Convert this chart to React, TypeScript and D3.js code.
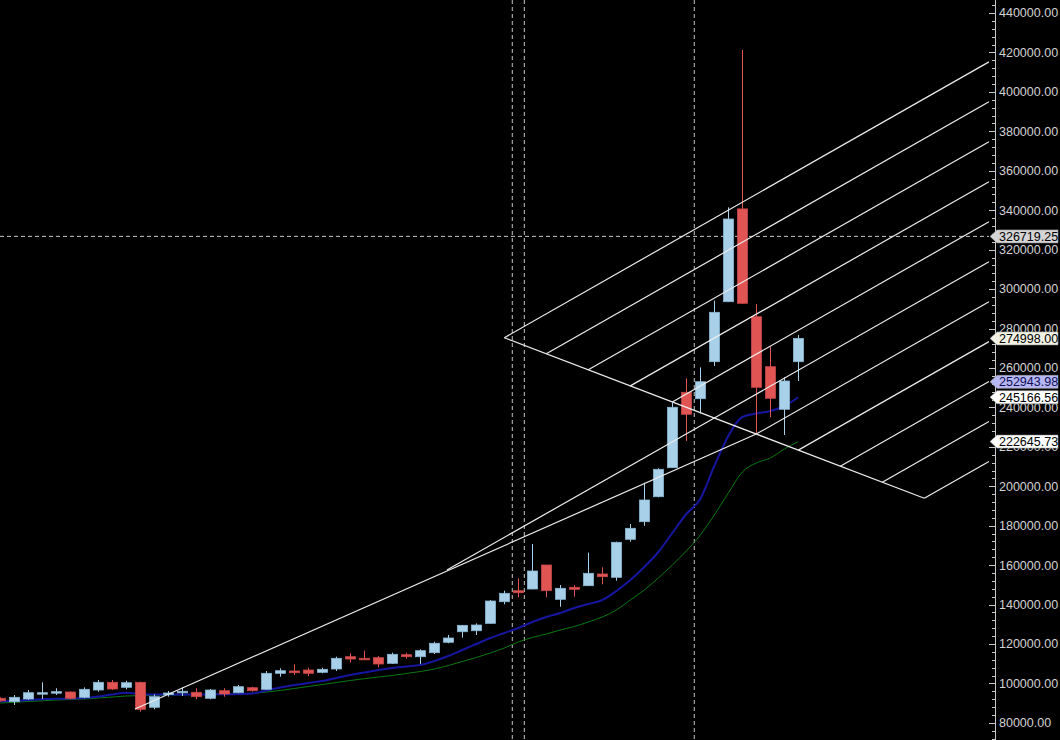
import React from 'react';
import * as d3 from 'd3';

const W = 1060;
const H = 740;
const PLOT_RIGHT = 989;
const AXIS_X = 995;

// OHLC per bar (bar index 0..57)
const opens = [92484, 90758, 92125, 94665, 95172, 95679, 92989, 96693, 100591, 98060, 100591, 87926, 94665, 95527, 95527, 92484, 96338, 95320, 97857, 97046, 105157, 106323, 106835, 105664, 107338, 113575, 112763, 113068, 110232, 114593, 113575, 115608, 120881, 126246, 126753, 130506, 141460, 147038, 147910, 160080, 142687, 148772, 149583, 155516, 153843, 173106, 182032, 194714, 209425, 247656, 244410, 263174, 293602, 340653, 286001, 260636, 239036, 263174];
const highs = [93000, 94157, 96693, 100589, 97555, 96034, 98060, 101764, 101764, 101409, 100895, 94512, 96186, 98060, 97555, 97198, 97555, 99226, 98364, 106323, 107686, 109719, 107997, 107997, 113575, 115304, 116622, 113930, 115608, 115608, 117332, 121186, 124584, 129655, 130506, 142332, 147038, 153332, 170730, 160080, 149938, 149938, 166322, 158915, 171895, 180865, 201815, 209116, 242379, 254756, 260333, 294107, 341461, 421237, 292434, 270780, 255268, 276714];
const lows = [90800, 89086, 91622, 92125, 94157, 91977, 92484, 95831, 96693, 97046, 85685, 86902, 93294, 93649, 91977, 91977, 93294, 95020, 95831, 96693, 103436, 104300, 103792, 105157, 106323, 110537, 111906, 108202, 109882, 112560, 109882, 114948, 120374, 123215, 124584, 130151, 140141, 143710, 147757, 143710, 138924, 144015, 149431, 150293, 152102, 171895, 179998, 194410, 209268, 222961, 237004, 260992, 293600, 292500, 226866, 234972, 226004, 253384];
const closes = [91216, 92989, 95320, 95320, 95831, 92484, 97046, 100591, 97198, 100389, 86902, 93294, 95172, 96034, 93294, 96693, 94665, 98364, 96338, 105157, 106475, 105461, 105157, 107185, 112763, 112408, 112256, 109882, 114796, 113575, 116622, 120374, 123062, 129484, 129644, 141815, 145720, 146024, 157038, 147048, 148265, 147757, 155871, 154147, 171591, 178685, 193042, 208609, 240054, 236500, 253031, 288224, 335537, 292791, 250190, 244616, 253382, 274998];

// moving averages
const maFast = [90861, 91216, 91622, 91977, 92230, 92383, 92636, 93397, 94411, 95273, 94665, 94411, 94411, 94411, 94411, 94512, 94563, 94665, 94924, 96445, 97967, 99228, 100243, 101257, 102778, 104300, 105567, 106835, 107849, 108610, 109370, 111399, 113934, 116977, 120020, 123062, 125598, 128133, 131176, 133711, 135740, 138275, 140304, 142332, 146896, 152474, 159066, 166673, 176308, 185943, 193549, 210283, 225496, 235131, 236906, 238174, 240709, 245166.56];
const maSlow = [90101, 90456, 90861, 91216, 91622, 91876, 92129, 92636, 93143, 93650, 93904, 94005, 94157, 94259, 94411, 94512, 94665, 94817, 95020, 95679, 96439, 97454, 98468, 99482, 100496, 101510, 102423, 103285, 104046, 105060, 106074, 107342, 109117, 111145, 113174, 115456, 117991, 121034, 123316, 125091, 127119, 128894, 131176, 133711, 137261, 142332, 147403, 153488, 160080, 167180, 175293, 185435, 196592, 207241, 211805, 214340, 218904, 222645.73];

// axis
const yTickValues = d3.range(80000, 440001, 20000);
const yMinorValues = d3.range(72000, 446001, 4000);

// drawing objects (bar index, price)
const channelApex = { i: 36, p: 275344 };
const channelBaseEnd = { i: 66, p: 193904 };
const channelCount = 11;
const channelSlopePerBar = 4040;
const channelRightIndex = 70.62;
const trendA = [{ i: 9.62, p: 87058 }, { i: 54, p: 226480 }];
const trendM = [{ i: 31.9, p: 157545 }, { i: 51, p: 234624 }];
const dashedVerticals = [36.57, 37.43, 49.57];
const crosshairPrice = 326719.25;

const priceTags = [
  { value: 326719.25, text: '326719.25', bg: '#d4d4d4', fg: '#000000' },
  { value: 274998.0, text: '274998.00', bg: '#f2f2e4', fg: '#000000' },
  { value: 252943.98, text: '252943.98', bg: '#b6b6f2', fg: '#10105a' },
  { value: 245166.56, text: '245166.56', bg: '#ffffff', fg: '#000000' },
  { value: 222645.73, text: '222645.73', bg: '#ffffff', fg: '#000000' },
];

const x = d3.scaleLinear().domain([0, 57]).range([0.3, 798.3]);
const y = d3.scaleLinear().domain([446592, 71338]).range([0, H]);

const BULL = '#a8d0e8';
const BULL_EDGE = '#8cb8d6';
const BEAR = '#e05454';

const FONT = '"Liberation Sans", Arial, sans-serif';

function Tag({ value, text, bg, fg }: { value: number; text: string; bg: string; fg: string }) {
  const cy = y(value);
  const h = 13;
  const pts = [
    [990, cy],
    [997, cy - h / 2],
    [1058, cy - h / 2],
    [1058, cy + h / 2],
    [997, cy + h / 2],
  ]
    .map((p) => p.join(','))
    .join(' ');
  return (
    <g>
      <polygon points={pts} fill={bg} stroke="#9a9a9a" strokeWidth={0.6} />
      <text x={999} y={cy} dy="0.35em" fontSize={12.5} fontFamily={FONT} fill={fg}>
        {text}
      </text>
    </g>
  );
}

export default function App() {
  const idx = d3.range(opens.length);
  const lineGen = d3
    .line<number>()
    .x((_, i) => x(i))
    .y((d) => y(d))
    .curve(d3.curveMonotoneX);

  const basePts = d3.range(channelCount).map((k) => ({
    i: channelApex.i + ((channelBaseEnd.i - channelApex.i) * k) / (channelCount - 1),
    p: channelApex.p + ((channelBaseEnd.p - channelApex.p) * k) / (channelCount - 1),
  }));

  return (
    <svg
      width={W}
      height={H}
      style={{ position: 'absolute', left: 0, top: 0, background: '#000' }}
    >
      <rect x={0} y={0} width={W} height={H} fill="#000" />

      {/* dashed verticals */}
      {dashedVerticals.map((v, k) => (
        <line
          key={'dv' + k}
          x1={x(v)}
          x2={x(v)}
          y1={0}
          y2={H}
          stroke="#c8c8c8"
          strokeWidth={1}
          strokeDasharray="4,3"
        />
      ))}
      {/* crosshair horizontal */}
      <line
        x1={0}
        x2={AXIS_X}
        y1={y(crosshairPrice)}
        y2={y(crosshairPrice)}
        stroke="#c8c8c8"
        strokeWidth={1}
        strokeDasharray="4,3"
      />

      {/* moving averages */}
      <path d={lineGen(maSlow) || ''} fill="none" stroke="#0b7a12" strokeWidth={1} />
      <path d={lineGen(maFast) || ''} fill="none" stroke="#1616a0" strokeWidth={2} />

      {/* candles */}
      {idx.map((i) => {
        const o = opens[i];
        const c = closes[i];
        const bull = c >= o;
        const col = bull ? BULL : BEAR;
        const top = y(Math.max(o, c));
        const bot = y(Math.min(o, c));
        const cx = Math.round(x(i)) + 0.5;
        return (
          <g key={'c' + i}>
            <line x1={cx} x2={cx} y1={y(highs[i])} y2={y(lows[i])} stroke={col} strokeWidth={1} />
            <rect
              x={cx - 5}
              y={top}
              width={10}
              height={Math.max(1.5, bot - top)}
              fill={col}
              stroke={bull ? BULL_EDGE : '#c84848'}
              strokeWidth={0.8}
            />
          </g>
        );
      })}

      {/* channel drawing */}
      <line
        x1={x(channelApex.i)}
        y1={y(channelApex.p)}
        x2={x(channelBaseEnd.i)}
        y2={y(channelBaseEnd.p)}
        stroke="#ececec"
        strokeWidth={1.2}
      />
      {basePts.map((b, k) => (
        <line
          key={'ch' + k}
          x1={x(b.i)}
          y1={y(b.p)}
          x2={x(channelRightIndex)}
          y2={y(b.p + channelSlopePerBar * (channelRightIndex - b.i))}
          stroke="#ececec"
          strokeWidth={1.2}
        />
      ))}
      <line
        x1={x(trendA[0].i)}
        y1={y(trendA[0].p)}
        x2={x(trendA[1].i)}
        y2={y(trendA[1].p)}
        stroke="#ececec"
        strokeWidth={1.2}
      />
      <line
        x1={x(trendM[0].i)}
        y1={y(trendM[0].p)}
        x2={x(trendM[1].i)}
        y2={y(trendM[1].p)}
        stroke="#ececec"
        strokeWidth={1.2}
      />

      {/* right axis */}
      <rect x={PLOT_RIGHT} y={0} width={W - PLOT_RIGHT} height={H} fill="#000" />
      <line x1={AXIS_X + 0.5} x2={AXIS_X + 0.5} y1={0} y2={H} stroke="#c8c8c8" strokeWidth={1} />
      {yMinorValues.map((v) => (
        <line
          key={'mt' + v}
          x1={992}
          x2={AXIS_X}
          y1={Math.round(y(v)) + 0.5}
          y2={Math.round(y(v)) + 0.5}
          stroke="#c8c8c8"
          strokeWidth={1}
        />
      ))}
      {yTickValues.map((v) => (
        <g key={'t' + v}>
          <line
            x1={989}
            x2={AXIS_X}
            y1={Math.round(y(v)) + 0.5}
            y2={Math.round(y(v)) + 0.5}
            stroke="#c8c8c8"
            strokeWidth={1}
          />
          <text x={999} y={y(v)} dy="0.35em" fontSize={12.5} fontFamily={FONT} fill="#d2d2d2">
            {d3.format('.2f')(v)}
          </text>
        </g>
      ))}
      {priceTags.map((t) => (
        <Tag key={t.text} {...t} />
      ))}
    </svg>
  );
}
